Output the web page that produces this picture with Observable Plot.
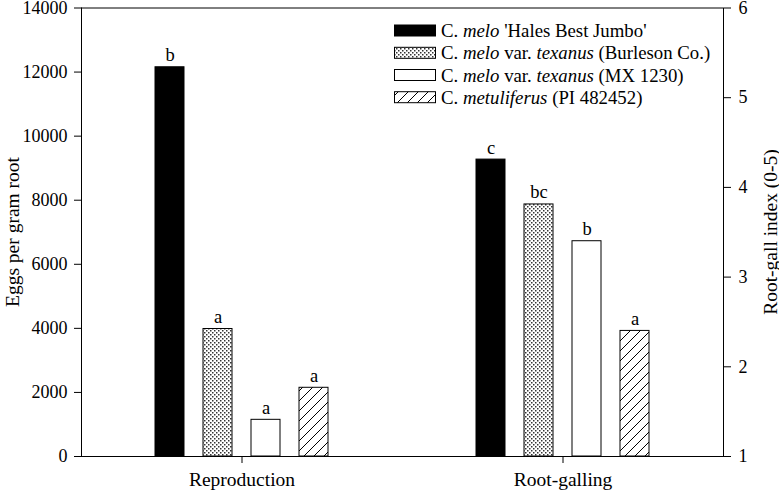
<!DOCTYPE html>
<html>
<head>
<meta charset="utf-8">
<script src="https://cdn.jsdelivr.net/npm/d3@7"></script>
<script src="https://cdn.jsdelivr.net/npm/@observablehq/plot@0.6"></script>
<style>
  html, body { margin: 0; padding: 0; background: white; }
  #chart { position: relative; width: 779px; height: 496px; }
</style>
</head>
<body>
<svg width="0" height="0" style="position:absolute">
  <defs>
    <pattern id="dots" patternUnits="userSpaceOnUse" width="4" height="4">
      <rect width="4" height="4" fill="white"></rect>
      <rect x="0" y="0" width="1.5" height="1.5" fill="#333"></rect>
      <rect x="2" y="2" width="1.5" height="1.5" fill="#333"></rect>
    </pattern>
    <pattern id="hatch" patternUnits="userSpaceOnUse" width="10" height="10">
      <rect width="10" height="10" fill="white"></rect>
      <path d="M0,10 L10,0 M-2,2 L2,-2 M8,12 L12,8" stroke="black" stroke-width="1"></path>
    </pattern>
  </defs>
</svg>
<div id="chart"></div>
<script>
// ---- data ----
const groups = ["Reproduction", "Root-galling"];
const cultivars = [
  "C. melo 'Hales Best Jumbo'",
  "C. melo var. texanus (Burleson Co.)",
  "C. melo var. texanus (MX 1230)",
  "C. metuliferus (PI 482452)"
];
const reproduction = [12150, 3980, 1145, 2145];      // eggs per gram root (left axis)
const rootGall = [4.31, 3.81, 3.40, 2.40];           // root-gall index (right axis)
const reproductionLetters = ["b", "a", "a", "a"];
const rootGallLetters = ["c", "bc", "b", "a"];
const leftTicks = [0, 2000, 4000, 6000, 8000, 10000, 12000, 14000];
const rightTicks = [1, 2, 3, 4, 5, 6];
const fills = ["black", "url(#dots)", "white", "url(#hatch)"];

// legend label parts: [text, italic]
const legendParts = [
  [["C. ", false], ["melo", true], [" 'Hales Best Jumbo'", false]],
  [["C. ", false], ["melo", true], [" var. ", false], ["texanus", true], [" (Burleson Co.)", false]],
  [["C. ", false], ["melo", true], [" var. ", false], ["texanus", true], [" (MX 1230)", false]],
  [["C. ", false], ["metuliferus", true], [" (PI 482452)", false]]
];

// right axis (1–6) mapped onto the left axis domain (0–14000)
const leftMax = 14000, rightMin = 1, rightMax = 6;
const toLeft = v => (v - rightMin) / (rightMax - rightMin) * leftMax;
const toRight = v => v / leftMax * (rightMax - rightMin) + rightMin;

const rows = [];
cultivars.forEach((c, i) => {
  rows.push({group: groups[0], cultivar: c, value: reproduction[i], y: reproduction[i], letter: reproductionLetters[i], fill: fills[i]});
  rows.push({group: groups[1], cultivar: c, value: rootGall[i], y: toLeft(rootGall[i]), letter: rootGallLetters[i], fill: fills[i]});
});

const font = "'Liberation Serif', 'Times New Roman', serif";

const chart = Plot.plot({
  width: 779,
  height: 496,
  marginLeft: 81,
  marginRight: 56,
  marginTop: 7.5,
  marginBottom: 40,
  style: {fontFamily: font, fontSize: "18px", color: "black", background: "white", overflow: "visible"},
  fx: {domain: groups, padding: 0, label: null},
  x: {domain: cultivars, paddingInner: 0.4, paddingOuter: 1.53, axis: null},
  y: {domain: [0, leftMax], axis: null},
  color: {type: "identity"},
  marks: [
    Plot.barY(rows, {fx: "group", x: "cultivar", y: "y", fill: "fill", stroke: "black", strokeWidth: 1}),
    Plot.text(rows, {fx: "group", x: "cultivar", y: "y", text: "letter", lineAnchor: "bottom", dy: -6, fontSize: 18.5}),
    Plot.ruleY([0, leftMax], {stroke: "black", strokeWidth: 1}),
    Plot.frame({anchor: "left", facetAnchor: "left", stroke: "black"}),
    Plot.frame({anchor: "right", facetAnchor: "right", stroke: "black"}),
    Plot.axisY({anchor: "left", ticks: leftTicks, tickFormat: d => String(d), tickSize: 7, tickPadding: 7, label: null, fontSize: 18}),
    Plot.axisY({anchor: "right", ticks: rightTicks.map(toLeft), tickFormat: d => String(Math.round(toRight(d))), tickSize: 7, tickPadding: 8, label: null, fontSize: 18}),
    Plot.axisFx({anchor: "bottom", tickSize: 7, tickPadding: 9, label: null, fontSize: 19.5})
  ]
});

document.getElementById("chart").appendChild(chart);

// axis titles and legend
const svg = d3.select(chart);
svg.append("text")
  .attr("transform", "translate(12,232) rotate(-90)")
  .attr("text-anchor", "middle").attr("dominant-baseline", "central")
  .attr("font-family", font).attr("font-size", 19.5).attr("fill", "black")
  .text("Eggs per gram root");
svg.append("text")
  .attr("transform", "translate(770,232) rotate(-90)")
  .attr("text-anchor", "middle").attr("dominant-baseline", "central")
  .attr("font-family", font).attr("font-size", 19.5).attr("fill", "black")
  .text("Root-gall index (0-5)");

const legend = svg.append("g").attr("font-family", font).attr("font-size", 18.8).attr("text-anchor", "start");
const rowY = [30.5, 52.8, 75, 97.2];
legendParts.forEach((parts, i) => {
  legend.append("rect")
    .attr("x", 394.5).attr("y", rowY[i] - 5.5).attr("width", 41).attr("height", 11)
    .attr("fill", fills[i]).attr("stroke", "black").attr("stroke-width", 1);
  const t = legend.append("text").attr("x", 441).attr("y", rowY[i]).attr("dy", "0.35em")
    .attr("fill", "black").attr("text-anchor", "start");
  parts.forEach(([s, it]) => {
    t.append("tspan").attr("font-style", it ? "italic" : "normal").attr("xml:space", "preserve").text(s);
  });
});
</script>
</body>
</html>
